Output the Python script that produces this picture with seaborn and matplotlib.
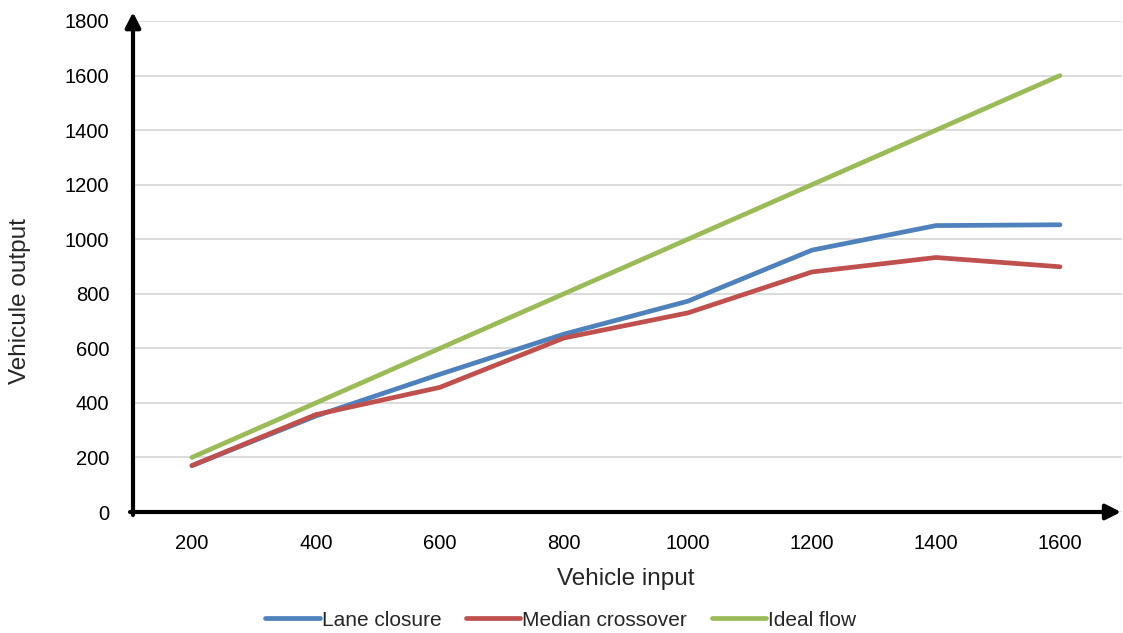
import matplotlib
matplotlib.use("Agg")
import matplotlib.pyplot as plt
from matplotlib.lines import Line2D
import seaborn as sns
import pandas as pd

# Traffic throughput per scenario
vehicle_input = [200, 400, 600, 800, 1000, 1200, 1400, 1600]
lane_closure = [170, 352, 505, 652, 773, 960, 1050, 1053]
median_crossover = [170, 357, 457, 638, 730, 880, 933, 899]
ideal_flow = [200, 400, 600, 800, 1000, 1200, 1400, 1600]
series_names = ["Lane closure", "Median crossover", "Ideal flow"]
series_colors = ["#4F81BD", "#C0504D", "#9BBB59"]
y_ticks = [0, 200, 400, 600, 800, 1000, 1200, 1400, 1600, 1800]

df = pd.concat([
    pd.DataFrame({"input": vehicle_input, "output": vals, "scenario": name})
    for name, vals in zip(series_names, [lane_closure, median_crossover, ideal_flow])
])

sns.set_theme(style="white")
plt.rcParams["font.family"] = ["Liberation Sans", "DejaVu Sans"]

W, H = 1123, 633
fig = plt.figure(figsize=(W / 100, H / 100), dpi=100)
ax = fig.add_axes([133 / W, 1 - 512 / H, (1122 - 133) / W, (512 - 21) / H])

sns.lineplot(data=df, x="input", y="output", hue="scenario",
             palette=dict(zip(series_names, series_colors)),
             linewidth=3.4, ax=ax, legend=False,
             solid_capstyle="round", solid_joinstyle="round")

ax.set_xlim(105, 1700)
ax.set_ylim(0, 1800)
ax.set_xticks(vehicle_input)
ax.set_xticklabels([str(v) for v in vehicle_input])
ax.set_yticks(y_ticks)
ax.set_yticklabels([str(v) for v in y_ticks])
ax.tick_params(axis="both", length=0, labelsize=14.5, colors="black")
ax.tick_params(axis="x", pad=16)
ax.tick_params(axis="y", pad=17)
ax.yaxis.grid(True, color="#D9D9D9", linewidth=1.3)
ax.xaxis.grid(False)
ax.set_axisbelow(True)
for s in ax.spines.values():
    s.set_visible(False)
ax.set_xlabel("")
ax.set_ylabel("")

# Axes drawn as arrows
arrow_kw = dict(arrowstyle="-|>,head_length=0.75,head_width=0.38", color="black",
                linewidth=3, shrinkA=0, shrinkB=0)
ax.annotate("", xy=(0, 1.018), xytext=(0, -0.006), xycoords="axes fraction",
            textcoords="axes fraction", arrowprops=arrow_kw, annotation_clip=False)
ax.annotate("", xy=(0.999, 0), xytext=(-0.003, 0), xycoords="axes fraction",
            textcoords="axes fraction", arrowprops=arrow_kw, annotation_clip=False)

fig.text(626 / W, 1 - 579 / H, "Vehicle input", ha="center", va="center", fontsize=17.5)
fig.text(20 / W, 1 - 301 / H, "Vehicule output", ha="center", va="center",
         rotation=90, fontsize=17.5)

handles = [Line2D([0], [0], color=c, linewidth=3.4, solid_capstyle="round")
           for c in series_colors]
fig.legend(handles, series_names, loc="center", bbox_to_anchor=(561 / W, 1 - 620 / H),
           ncol=3, frameon=False, fontsize=15, handlelength=2.6, handletextpad=0.1,
           columnspacing=1.2)

fig.savefig("out.png", dpi=100)
